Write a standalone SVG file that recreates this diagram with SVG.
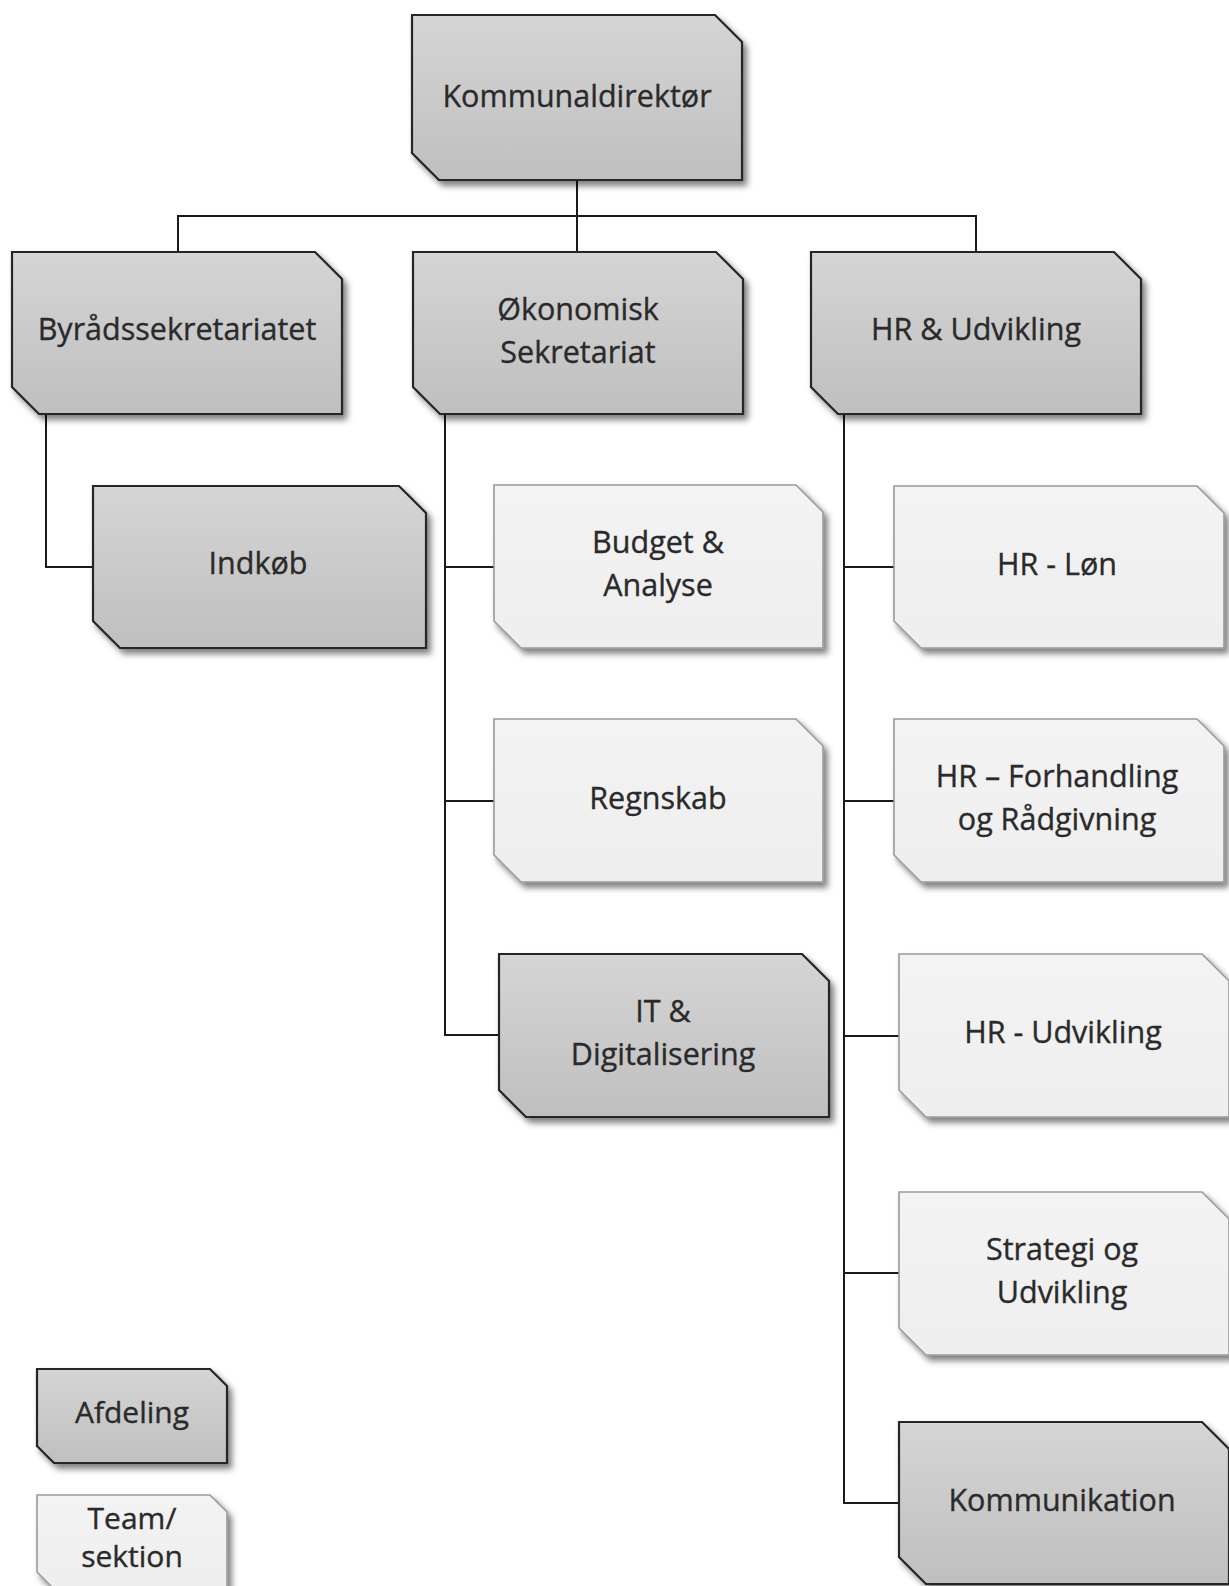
<svg xmlns="http://www.w3.org/2000/svg" width="1229" height="1586" viewBox="0 0 1229 1586">
  <defs>
    <linearGradient id="gDark" x1="0" y1="0" x2="0" y2="1">
      <stop offset="0" stop-color="#d5d5d5"/>
      <stop offset="1" stop-color="#bfbfbf"/>
    </linearGradient>
    <linearGradient id="gLight" x1="0" y1="0" x2="0" y2="1">
      <stop offset="0" stop-color="#f3f3f3"/>
      <stop offset="1" stop-color="#eeeeee"/>
    </linearGradient>
    <filter id="shadow" x="-10%" y="-10%" width="130%" height="130%">
      <feDropShadow dx="4" dy="5" stdDeviation="3" flood-color="#000" flood-opacity="0.5"/>
    </filter>
  </defs>
  <style>
    .dark { fill: url(#gDark); stroke: #262626; stroke-width: 2.2; filter: url(#shadow); }
    .light { fill: url(#gLight); stroke: #9a9a9a; stroke-width: 1.6; filter: url(#shadow); }
    .conn { fill: none; stroke: #1a1a1a; stroke-width: 2; }
    text { font-family: "Open Sans", "Noto Sans", sans-serif; font-size: 30.5px; fill: #2a2a2a; stroke: #2a2a2a; stroke-width: 0.35; text-anchor: middle; }
    .leg { font-size: 30px; }
  </style>
  <rect width="1229" height="1586" fill="#ffffff"/>

  <g id="connectors">
    <path class="conn" d="M577,180 V252"/>
    <path class="conn" d="M178,252 V216 H976 V252"/>
    <path class="conn" d="M46,414 V567 H93"/>
    <path class="conn" d="M445,414 V1035 H499 M445,567 H494 M445,801 H494"/>
    <path class="conn" d="M844,414 V1503 H899 M844,567 H894 M844,801 H894 M844,1036 H899 M844,1273 H899"/>
  </g>

  <g id="kommunaldirektoer">
    <path class="dark" d="M412,15 H715 L742,42 V180 H439 L412,153 Z"/>
    <text x="577" y="107">Kommunaldirektør</text>
  </g>
  <g id="byraadssekretariatet">
    <path class="dark" d="M12,252 H315 L342,279 V414 H39 L12,387 Z"/>
    <text x="177" y="340">Byrådssekretariatet</text>
  </g>
  <g id="oekonomisk-sekretariat">
    <path class="dark" d="M413,252 H716 L743,279 V414 H440 L413,387 Z"/>
    <text x="578" y="320">Økonomisk</text>
    <text x="578" y="363">Sekretariat</text>
  </g>
  <g id="hr-og-udvikling">
    <path class="dark" d="M811,252 H1114 L1141,279 V414 H838 L811,387 Z"/>
    <text x="976" y="340">HR &amp; Udvikling</text>
  </g>
  <g id="indkoeb">
    <path class="dark" d="M93,486 H399 L426,513 V648 H120 L93,621 Z"/>
    <text x="258" y="574">Indkøb</text>
  </g>
  <g id="budget-analyse">
    <path class="light" d="M494,485 H796 L823,512 V648 H521 L494,621 Z"/>
    <text x="658" y="553">Budget &amp;</text>
    <text x="658" y="596">Analyse</text>
  </g>
  <g id="hr-loen">
    <path class="light" d="M894,486 H1197 L1224,513 V648 H921 L894,621 Z"/>
    <text x="1057" y="575">HR - Løn</text>
  </g>
  <g id="regnskab">
    <path class="light" d="M494,719 H796 L823,746 V882 H521 L494,855 Z"/>
    <text x="658" y="809">Regnskab</text>
  </g>
  <g id="hr-forhandling">
    <path class="light" d="M894,719 H1197 L1224,746 V882 H921 L894,855 Z"/>
    <text x="1057" y="787">HR – Forhandling</text>
    <text x="1057" y="830">og Rådgivning</text>
  </g>
  <g id="it-digitalisering">
    <path class="dark" d="M499,954 H802 L829,981 V1117 H526 L499,1090 Z"/>
    <text x="663" y="1022">IT &amp;</text>
    <text x="663" y="1065">Digitalisering</text>
  </g>
  <g id="hr-udvikling">
    <path class="light" d="M899,954 H1202 L1229,981 V1117 H926 L899,1090 Z"/>
    <text x="1063" y="1043">HR - Udvikling</text>
  </g>
  <g id="strategi-udvikling">
    <path class="light" d="M899,1192 H1202 L1229,1219 V1355 H926 L899,1328 Z"/>
    <text x="1062" y="1260">Strategi og</text>
    <text x="1062" y="1303">Udvikling</text>
  </g>
  <g id="kommunikation">
    <path class="dark" d="M899,1422 H1202 L1229,1449 V1584 H926 L899,1557 Z"/>
    <text x="1062" y="1511">Kommunikation</text>
  </g>

  <g id="legend-afdeling">
    <path class="dark" d="M37,1369 H210 L227,1386 V1463 H54 L37,1446 Z"/>
    <text class="leg" x="132" y="1423">Afdeling</text>
  </g>
  <g id="legend-team">
    <path class="light" d="M37,1495 H210 L227,1512 V1589 H54 L37,1572 Z"/>
    <text class="leg" x="132" y="1529">Team/</text>
    <text class="leg" x="132" y="1567">sektion</text>
  </g>
</svg>
